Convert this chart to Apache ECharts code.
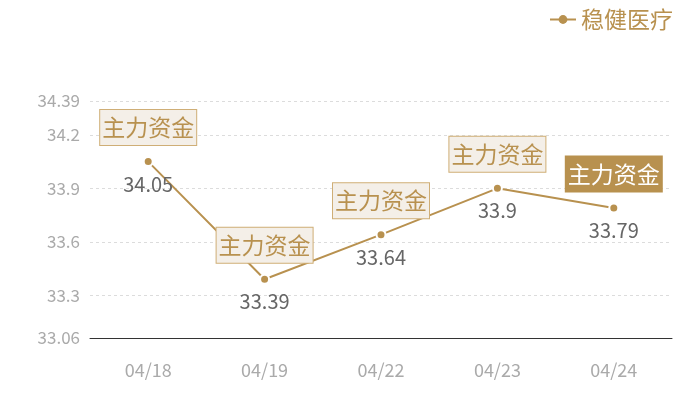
<!DOCTYPE html>
<html>
<head>
<meta charset="utf-8">
<script src="https://cdn.jsdelivr.net/npm/echarts@6/dist/echarts.min.js"></script>
<style>html,body{margin:0;padding:0;background:#fff}#c{width:700px;height:400px}</style>
</head>
<body>
<div id="c"></div>
<script>
const categories = ['04/18', '04/19', '04/22', '04/23', '04/24'];
const values = [34.05, 33.39, 33.64, 33.9, 33.79];
const seriesName = '稳健医疗';
const tagText = '主力资金';
const yMin = 33.06, yMax = 34.39;
const yTicks = [33.06, 33.3, 33.6, 33.9, 34.2, 34.39];

const gold = '#b8914f';
const chart = echarts.init(document.getElementById('c'));
const font = '"Noto Sans CJK SC", "Noto Sans", sans-serif';

const marks = values.map((v, i) => {
  const last = i === values.length - 1;
  return {
    coord: [i, v],
    value: v,
    label: {
      show: true,
      formatter: tagText,
      offset: [0, -34],
      color: last ? '#fff' : gold,
      backgroundColor: last ? gold : '#f4efe8',
      borderColor: last ? gold : '#cfae76',
      borderWidth: 1,
      padding: [7, 2, 5, 2],
      fontSize: 23,
      fontFamily: font
    }
  };
});

chart.setOption({
  animation: false,
  textStyle: { fontFamily: font },
  legend: {
    right: 22, top: 3,
    itemWidth: 26, itemHeight: 11,
    itemGap: 6,
    itemStyle: { borderWidth: 0 },
    textStyle: { color: gold, fontSize: 23, fontFamily: font, padding: [0, 0, 0, 0] },
    data: [seriesName]
  },
  grid: { left: 90, right: 28, top: 101, bottom: 62 },
  xAxis: {
    type: 'category',
    data: categories,
    boundaryGap: true,
    axisLine: { lineStyle: { color: '#333' } },
    axisTick: { show: false },
    axisLabel: { color: '#aaa', fontSize: 18, margin: 23 }
  },
  yAxis: {
    type: 'value',
    min: yMin, max: yMax,
    axisLine: { show: false },
    axisTick: { show: false, customValues: yTicks },
    axisLabel: { color: '#aaa', fontSize: 17, margin: 10, customValues: yTicks },
    splitLine: { lineStyle: { color: '#dcdcdc', type: [3, 3] } }
  },
  series: [{
    name: seriesName,
    type: 'line',
    data: values,
    symbol: 'circle',
    symbolSize: 9,
    itemStyle: { color: gold, borderColor: '#fff', borderWidth: 2 },
    lineStyle: { color: gold, width: 2 },
    label: { show: true, position: 'bottom', distance: 7, color: '#666', fontSize: 20 },
    markPoint: {
      symbol: 'circle',
      symbolSize: 0,
      data: marks
    }
  }]
});
</script>
</body>
</html>
